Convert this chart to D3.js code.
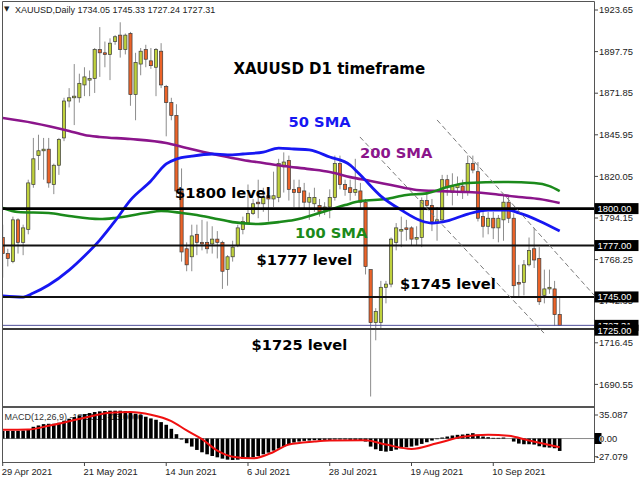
<!DOCTYPE html>
<html><head><meta charset="utf-8">
<script src="https://cdn.jsdelivr.net/npm/d3@7"></script>
<style>html,body{margin:0;padding:0;background:#fff;}svg{display:block;}</style>
</head><body><svg id="c" width="640" height="480"></svg>
<script>
// ---------------- DATA ----------------
const dates = [
"2021-04-29","2021-04-30",
"2021-05-03","2021-05-04","2021-05-05","2021-05-06","2021-05-07",
"2021-05-10","2021-05-11","2021-05-12","2021-05-13","2021-05-14",
"2021-05-17","2021-05-18","2021-05-19","2021-05-20","2021-05-21",
"2021-05-24","2021-05-25","2021-05-26","2021-05-27","2021-05-28","2021-05-31",
"2021-06-01","2021-06-02","2021-06-03","2021-06-04",
"2021-06-07","2021-06-08","2021-06-09","2021-06-10","2021-06-11",
"2021-06-14","2021-06-15","2021-06-16","2021-06-17","2021-06-18",
"2021-06-21","2021-06-22","2021-06-23","2021-06-24","2021-06-25",
"2021-06-28","2021-06-29","2021-06-30","2021-07-01","2021-07-02",
"2021-07-05","2021-07-06","2021-07-07","2021-07-08","2021-07-09",
"2021-07-12","2021-07-13","2021-07-14","2021-07-15","2021-07-16",
"2021-07-19","2021-07-20","2021-07-21","2021-07-22","2021-07-23",
"2021-07-26","2021-07-27","2021-07-28","2021-07-29","2021-07-30",
"2021-08-02","2021-08-03","2021-08-04","2021-08-05","2021-08-06",
"2021-08-09","2021-08-10","2021-08-11","2021-08-12","2021-08-13",
"2021-08-16","2021-08-17","2021-08-18","2021-08-19","2021-08-20",
"2021-08-23","2021-08-24","2021-08-25","2021-08-26","2021-08-27",
"2021-08-30","2021-08-31","2021-09-01","2021-09-02","2021-09-03",
"2021-09-06","2021-09-07","2021-09-08","2021-09-09","2021-09-10",
"2021-09-13","2021-09-14","2021-09-15","2021-09-16","2021-09-17",
"2021-09-20","2021-09-21","2021-09-22","2021-09-23","2021-09-24",
"2021-09-27","2021-09-28","2021-09-29"];

const open = [
1782,1772,1767,1793,1779,1787,1815,1833,1836,1837,
1815,1827,1844,1867,1869,1869,1877,1880,1881,1899,
1897,1896,1904,1908,1899,1909,1871,1890,1899,1892,
1888,1898,1876,1866,1858,1811,1775,1770,1784,1779,
1779,1778,1781,1779,1762,1770,1777,1787,1791,1797,
1804,1803,1808,1806,1807,1826,1830,1812,1813,1811,
1804,1803,1802,1799,1801,1807,1828,1815,1813,1810,
1811,1804,1762,1729,1729,1751,1753,1779,1786,1788,
1788,1781,1782,1805,1802,1791,1793,1818,1810,1813,
1814,1810,1828,1823,1795,1789,1794,1788,1793,1804,
1794,1754,1754,1765,1775,1769,1746,1750,1750,1734.05];
const high = [
1790,1775,1795,1794,1790,1818,1844,1846,1844,1844,
1828,1844,1869,1875,1890,1884,1888,1886,1900,1913,
1904,1906,1908,1916,1909,1910,1897,1900,1902,1900,
1900,1903,1877,1869,1865,1825,1779,1790,1790,1793,
1792,1789,1786,1780,1771,1780,1790,1795,1815,1806,
1818,1813,1809,1823,1831,1835,1833,1818,1818,1816,
1810,1813,1806,1804,1812,1833,1833,1818,1818,1831,
1816,1806,1762,1738,1755,1755,1782,1791,1795,1793,
1789,1789,1807,1809,1806,1801,1821,1821,1822,1820,
1818,1833,1833,1829,1798,1798,1798,1796,1809,1808,
1797,1765,1768,1782,1788,1776,1762,1762,1755,1745.33];
const low = [
1757,1764,1766,1772,1771,1784,1813,1824,1818,1813,
1809,1821,1842,1863,1852,1866,1870,1870,1872,1882,
1888,1880,1902,1894,1896,1864,1855,1883,1888,1887,
1870,1875,1845,1855,1808,1767,1761,1761,1771,1774,
1772,1772,1769,1750,1752,1767,1776,1784,1790,1796,
1794,1798,1792,1801,1804,1810,1805,1801,1800,1800,
1793,1798,1795,1796,1794,1805,1812,1808,1805,1808,
1800,1759,1683,1718,1725,1741,1751,1774,1776,1780,
1777,1777,1776,1799,1786,1780,1791,1808,1802,1808,
1806,1808,1822,1792,1782,1784,1781,1779,1780,1791,
1745,1745,1746,1764,1763,1740,1741,1747,1727,1727.24];
const close = [
1772,1769,1793,1779,1788,1816,1831,1836,1837,1816,
1827,1843,1867,1869,1870,1878,1882,1881,1899,1897,
1896,1903,1907,1899,1908,1871,1891,1898,1893,1889,
1899,1877,1866,1858,1811,1773,1765,1783,1779,1778,
1775,1781,1779,1761,1770,1776,1788,1792,1797,1803,
1803,1807,1806,1808,1828,1829,1812,1810,1810,1804,
1807,1807,1798,1801,1807,1828,1815,1812,1810,1812,
1804,1764,1729,1736,1751,1753,1781,1788,1787,1787,
1781,1782,1805,1802,1792,1793,1818,1813,1814,1815,
1810,1828,1824,1794,1789,1794,1788,1794,1804,1794,
1752,1753,1765,1774,1768,1742,1750,1751,1734,1727.31];

// moving averages read at sample bars (bar index, price)
const sma50Idx = [0,4,6,9,13,16,19,22,25,29,32,34,37,41,44,47,51,54,57,60,64,68,70,74,78,82,84,87,91,95,99,101,105,109];
const sma50Val = [1745.6,1744.9,1747.4,1752.4,1761.7,1770.5,1780.4,1792.3,1805.3,1817.2,1827.8,1830.9,1832.7,1834.0,1833.4,1834.0,1835.2,1837.7,1837.1,1836.5,1832.1,1827.1,1820.9,1807.8,1799.1,1792.3,1791.0,1792.3,1796.6,1799.1,1799.1,1797.3,1792.3,1786.0];
const sma100Idx = [0,3,9,13,19,22,28,31,35,38,41,45,50,54,57,62,67,70,75,79,83,87,91,98,104,107,109];
const sma100Val = [1800.4,1797.9,1797.3,1795.4,1793.5,1794.2,1797.3,1798.5,1797.3,1796.0,1794.2,1791.6,1790.4,1791.6,1792.9,1797.3,1802.2,1804.7,1806.0,1808.5,1809.5,1813.4,1815.9,1816.6,1815.9,1814.0,1810.9];
const sma200Idx = [0,6,13,16,19,25,32,36,42,47,51,55,60,64,68,72,76,81,86,91,96,101,105,109];
const sma200Val = [1856.4,1853.3,1848.3,1845.8,1844.6,1843.3,1840.8,1837.7,1833.4,1830.3,1828.4,1826.5,1824.6,1822.8,1819.6,1817.2,1814.7,1811.6,1810.9,1810.3,1809.1,1807.2,1806.0,1803.5];

// MACD(12,26,9) histogram, one value per bar
const macdHist = [
11.5,11.5,11.5,11.5,12,13.5,17.5,19.5,21.5,22,
22,23.5,26.5,29.5,32,34.5,36.5,38,39.5,40.5,
41,41.5,41.5,41.5,41,39.5,37,35,32.5,30,
28,24.5,20.5,14.5,6.5,-1.5,-7,-12,-17,-20.5,
-23.5,-26,-28,-30,-31.5,-32,-31.5,-30.5,-29.5,-28,
-26,-23.5,-21,-18,-15,-12,-8.5,-6,-4.5,-3.5,
-3,-2.5,-2.5,-2,-2,-1.5,-1.5,-1.5,-2,-2,
-2.5,-4.5,-12,-16,-18.5,-19.5,-18.5,-16.5,-14.5,-13,
-12,-10.5,-8,-5.5,-3,-1,1.5,3,4.5,5.5,
6,7,8,5.5,3,2,1,1,1.5,0,
-4.5,-7.5,-8.5,-8.5,-9,-11.5,-13,-13.5,-14.5,-18.5];
const signalIdx = [0,5,9,16,21,25,29,33,36,39,42,45,49,53,56,61,64,71,75,80,85,90,95,99,103,109];
const signalVal = [13,13.5,19,31,38.5,39.5,35.5,26,12,-1,-18,-27,-29.5,-20,-9,-4.5,-3,-2.5,-9,-15.5,-7,2.5,5.5,4,-3,-13];

const priceTicks = [1923.65,1897.75,1871.85,1845.95,1820.05,1794.15,1768.25,1742.35,1716.45,1690.55];
const macdTicks = [35.087,0,-27.079];
const macdTickLabels = ["35.087","0.00","-27.079"];
const xTickDates = ["2021-04-29","2021-05-21","2021-06-14","2021-07-06","2021-07-28","2021-08-19","2021-09-10"];
const xTickLabels = ["29 Apr 2021","21 May 2021","14 Jun 2021","6 Jul 2021","28 Jul 2021","19 Aug 2021","10 Sep 2021"];
const levelPrices = [1800, 1777, 1745, 1725];
const levelLabels = ["1800.00","1777.00","1745.00","1725.00"];
const trendStartIdx = [85.0, 69.9];
const trendStartPrice = [1855.2, 1844.6];
const trendEndIdx = [115.7, 106.1];
const trendEndPrice = [1746.2, 1721.9];

// ---------------- DRAW ----------------
const svg = d3.select("#c");
const FONT = "'Liberation Sans', Arial, sans-serif";
const BOLD = "'DejaVu Sans', Verdana, sans-serif";
const n = dates.length;
const last = n - 1;

const x = d3.scaleLinear().domain([0, last]).range([2.7, 559.7]);
const y = d3.scaleLinear().domain([1690.55, 1923.65]).range([384.4, 10]);
const ym = d3.scaleLinear().domain([-27.079, 35.087]).range([456.7, 415]);

const defs = svg.append("defs");
defs.append("clipPath").attr("id","mainClip").append("rect").attr("x",3).attr("y",2).attr("width",591).attr("height",404);
defs.append("clipPath").attr("id","macdClip").append("rect").attr("x",3).attr("y",408).attr("width",591).attr("height",54);
defs.append("clipPath").attr("id","zeroBox").append("rect").attr("x",594.5).attr("y",433).attr("width",7).attr("height",11);

// header
svg.append("text").attr("x",4).attr("y",11).attr("font-size",7).attr("font-family","DejaVu Sans").attr("fill","#222").text("\u25BC");
svg.append("text").attr("x",15).attr("y",12.5).attr("font-size",9).attr("font-family",FONT).attr("fill","#222")
  .text(`XAUUSD,Daily  ${open[last].toFixed(2)} ${high[last].toFixed(2)} ${low[last].toFixed(2)} ${close[last].toFixed(2)}`);

const main = svg.append("g").attr("clip-path","url(#mainClip)");

// candles
const cg = main.append("g");
d3.range(n).forEach(i => {
  const cx = x(i);
  cg.append("line").attr("x1",cx).attr("x2",cx).attr("y1",y(high[i])).attr("y2",y(low[i]))
    .attr("stroke","#8c8c8c").attr("stroke-width",1);
  const up = close[i] >= open[i];
  const top = y(Math.max(open[i], close[i]));
  const bot = y(Math.min(open[i], close[i]));
  cg.append("rect").attr("x",cx-1.6).attr("width",3.2).attr("y",top).attr("height",Math.max(1,bot-top))
    .attr("fill", up ? "#bfd13c" : "#ec6328").attr("stroke","#3a3a3a").attr("stroke-width",0.7);
});

// SMAs
function maLine(idx, vals, color, w){
  const pts = idx.map((d,k)=>[x(d), y(vals[k])]);
  main.append("path").attr("d", d3.line().curve(d3.curveMonotoneX)(pts))
    .attr("fill","none").attr("stroke",color).attr("stroke-width",w).attr("stroke-linejoin","round");
}
maLine(sma200Idx, sma200Val, "#8b158b", 2.6);
maLine(sma100Idx, sma100Val, "#1b8a1b", 2.6);
maLine(sma50Idx, sma50Val, "#1717f2", 2.8);

// level lines
const lvlW = [2.8, 1.9, 1.9, 2];
const lvlC = ["#000","#111","#111","#3a3a3a"];
levelPrices.forEach((p,k)=>{
  main.append("line").attr("x1",3).attr("x2",594).attr("y1",y(p)).attr("y2",y(p))
    .attr("stroke",lvlC[k]).attr("stroke-width",lvlW[k]);
});
// bid line
main.append("line").attr("x1",3).attr("x2",594).attr("y1",y(close[last])).attr("y2",y(close[last]))
  .attr("stroke","#50509a").attr("stroke-width",1);

// trend channel lines
trendStartIdx.forEach((s,k)=>{
  main.append("line").attr("x1",x(s)).attr("y1",y(trendStartPrice[k])).attr("x2",x(trendEndIdx[k])).attr("y2",y(trendEndPrice[k]))
    .attr("stroke","#7a7a7a").attr("stroke-width",1).attr("stroke-dasharray","5,3");
});

// annotations
const ann = [
  {t:"XAUUSD D1 timeframe", x:233.5, y:73.5, c:"#000", s:15},
  {t:"50 SMA", x:288.5, y:127, c:"#1717f2", s:14.7},
  {t:"200 SMA", x:360, y:158, c:"#8b158b", s:14.7},
  {t:"$1800 level", x:175, y:198, c:"#000", s:14.7},
  {t:"100 SMA", x:295, y:237.5, c:"#1b8a1b", s:14.7},
  {t:"$1777 level", x:256.5, y:265, c:"#000", s:14.7},
  {t:"$1745 level", x:400, y:289, c:"#000", s:14.7},
  {t:"$1725 level", x:251.5, y:350, c:"#000", s:14.7}
];
ann.forEach(a=>{
  main.append("text").attr("x",a.x).attr("y",a.y).attr("font-family",BOLD).attr("font-weight","bold")
    .attr("font-size",a.s).attr("fill",a.c).text(a.t);
});

// MACD pane
svg.append("text").attr("x",4.5).attr("y",419.5).attr("font-size",9).attr("font-family",FONT).attr("fill","#333")
  .text(`MACD(12,26,9) ${macdHist[last].toFixed(4)} ${signalVal[signalVal.length-1].toFixed(4)}`);
const mg = svg.append("g").attr("clip-path","url(#macdClip)");
mg.append("line").attr("x1",3).attr("x2",594).attr("y1",ym(0)).attr("y2",ym(0)).attr("stroke","#8a8a8a").attr("stroke-width",1);
mg.selectAll("rect.h").data(macdHist).enter().append("rect")
  .attr("x",(d,i)=>x(i)-1.8).attr("width",3.6)
  .attr("y",d=>Math.min(ym(0),ym(d))).attr("height",d=>Math.abs(ym(d)-ym(0)))
  .attr("fill","#000");
mg.append("path").attr("d", d3.line().curve(d3.curveMonotoneX)(signalIdx.map((d,k)=>[x(d), ym(signalVal[k])])))
  .attr("fill","none").attr("stroke","#f01010").attr("stroke-width",2);

// frames
const fr = "#555";
svg.append("line").attr("x1",2.5).attr("x2",2.5).attr("y1",1.5).attr("y2",463).attr("stroke",fr);
svg.append("line").attr("x1",2.5).attr("x2",594.5).attr("y1",1.5).attr("y2",1.5).attr("stroke",fr);
svg.append("line").attr("x1",594.5).attr("x2",594.5).attr("y1",1.5).attr("y2",463).attr("stroke",fr);
svg.append("line").attr("x1",2.5).attr("x2",594.5).attr("y1",407).attr("y2",407).attr("stroke",fr).attr("stroke-width",2);
svg.append("line").attr("x1",2.5).attr("x2",594.5).attr("y1",462.5).attr("y2",462.5).attr("stroke",fr);

// price axis
priceTicks.forEach(p=>{
  svg.append("line").attr("x1",594.5).attr("x2",598).attr("y1",y(p)).attr("y2",y(p)).attr("stroke","#444");
  svg.append("text").attr("x",599).attr("y",y(p)).attr("dy","0.35em").attr("font-size",9.4).attr("font-family",FONT).attr("fill","#222").text(p.toFixed(2));
});
function tag(p, label){
  const yy = y(p);
  svg.append("rect").attr("x",594.5).attr("y",yy-5.5).attr("width",44).attr("height",11).attr("fill","#000");
  svg.append("text").attr("x",597.5).attr("y",yy).attr("dy","0.36em").attr("font-size",9.4).attr("font-family",FONT).attr("fill","#fff").text(label);
}
tag(close[last], close[last].toFixed(2));
levelPrices.slice().reverse().forEach((p,k)=>{ tag(p + (p===1725?-0.7:0), levelLabels[levelLabels.length-1-k]); });

// MACD axis
macdTicks.forEach((v,k)=>{
  svg.append("line").attr("x1",594.5).attr("x2",598).attr("y1",ym(v)).attr("y2",ym(v)).attr("stroke","#444");
  svg.append("text").attr("x",k===2?596:599).attr("y",ym(v)).attr("dy","0.35em").attr("font-size",9.4).attr("font-family",FONT).attr("fill","#222").text(macdTickLabels[k]);
});
svg.append("rect").attr("x",594.5).attr("y",433).attr("width",7).attr("height",11).attr("fill","#000");
svg.append("text").attr("x",599).attr("y",ym(0)).attr("dy","0.35em").attr("font-size",9.4).attr("font-family",FONT).attr("fill","#fff").attr("clip-path","url(#zeroBox)").text("0.00");

// time axis
xTickDates.forEach((d,k)=>{
  const xx = x(dates.indexOf(d));
  svg.append("line").attr("x1",xx).attr("x2",xx).attr("y1",462.5).attr("y2",466).attr("stroke","#444");
  svg.append("text").attr("x",xx-1).attr("y",475).attr("font-size",9.4).attr("font-family",FONT).attr("fill","#222").text(xTickLabels[k]);
});
</script></body></html>
